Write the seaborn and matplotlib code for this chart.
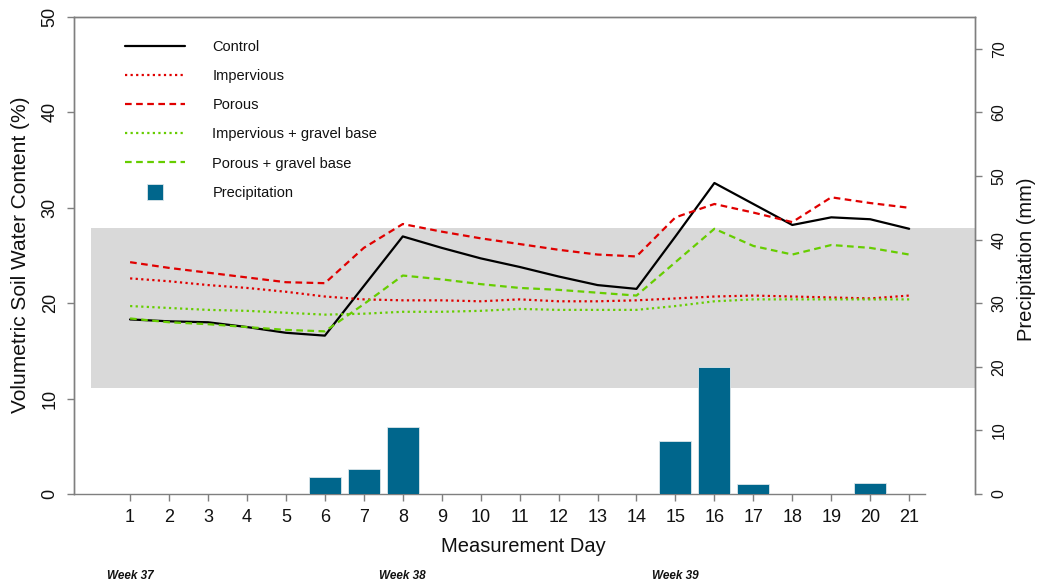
import numpy as np
import pandas as pd
import matplotlib
matplotlib.use("Agg")
import matplotlib.pyplot as plt
from matplotlib.lines import Line2D
import seaborn as sns

# Measurement days and observed series
days = list(range(1, 22))
control = [18.3, 18.1, 18.0, 17.5, 16.9, 16.6, 21.8, 27.0, 25.8, 24.7, 23.8, 22.8,
           21.9, 21.5, 27.0, 32.6, 30.4, 28.2, 29.0, 28.8, 27.8]
impervious = [22.6, 22.3, 21.9, 21.6, 21.2, 20.7, 20.4, 20.3, 20.3, 20.2, 20.4, 20.2,
              20.2, 20.3, 20.5, 20.7, 20.8, 20.7, 20.6, 20.5, 20.8]
porous = [24.3, 23.7, 23.2, 22.7, 22.2, 22.1, 25.8, 28.3, 27.5, 26.8, 26.2, 25.6,
          25.1, 24.9, 29.0, 30.4, 29.5, 28.5, 31.1, 30.5, 30.0]
impervious_gravel = [19.7, 19.5, 19.3, 19.2, 19.0, 18.8, 18.9, 19.1, 19.1, 19.2, 19.4, 19.3,
                     19.3, 19.3, 19.7, 20.2, 20.4, 20.4, 20.4, 20.4, 20.4]
porous_gravel = [18.4, 18.0, 17.8, 17.5, 17.2, 17.05, 19.9, 22.9, 22.5, 22.0, 21.6, 21.4,
                 21.1, 20.8, 24.3, 27.8, 26.0, 25.1, 26.1, 25.8, 25.1]
precip = [0, 0, 0, 0, 0, 2.7, 4.0, 10.5, 0, 0, 0, 0, 0, 0, 8.4, 19.9, 1.5, 0, 0, 1.7, 0]

# Reference band of soil water content (%)
band = [11.1, 27.9]
band_start_day = 0

week_labels = ["Week 37", "Week 38", "Week 39"]
week_days = [1, 8, 15]

sns.set_theme(style="white")
plt.rcParams["font.family"] = ["Liberation Sans", "DejaVu Sans"]

RED = "#e00000"
GREEN = "#66cd00"
BLUE = "#00668c"
AXCOL = "#7f7f7f"

fig = plt.figure(figsize=(10.37, 5.87), dpi=100)
ax = fig.add_axes([74 / 1037, 1 - 494 / 587, 901 / 1037, 477 / 587])
ax2 = ax.twinx()  # drawn above ax: bars sit over the shaded band

xmin, xmax = -0.44, 22.69

# shaded band (left-axis units)
ax.fill_between([band_start_day, xmax + 1], band[0], band[1], color="#d9d9d9", lw=0, zorder=0)

df = pd.DataFrame({
    "day": days,
    "Control": control,
    "Impervious": impervious,
    "Porous": porous,
    "Impervious + gravel base": impervious_gravel,
    "Porous + gravel base": porous_gravel,
    "Precipitation": precip,
})

dot = (0, (1, 1.5))
dash = (0, (3, 2))
series_styles = [
    ("Control", "black", "-"),
    ("Impervious", RED, dot),
    ("Porous", RED, dash),
    ("Impervious + gravel base", GREEN, dot),
    ("Porous + gravel base", GREEN, dash),
]

# precipitation bars on the right-hand axis
sns.barplot(data=df, x="day", y="Precipitation", native_scale=True, width=0.82,
            color=BLUE, saturation=1, edgecolor="#dde6ea", linewidth=0.6, ax=ax2, zorder=2)

for name, col, ls in series_styles:
    sns.lineplot(data=df, x="day", y=name, color=col, linestyle=ls, linewidth=1.6,
                 ax=ax, zorder=3)

ax.set_xlim(xmin, xmax)
ax2.set_xlim(xmin, xmax)
ax.set_ylim(0, 50)
ax2.set_ylim(0, 75)

# axes styling
for a in (ax, ax2):
    for s in a.spines.values():
        s.set_color(AXCOL)
        s.set_linewidth(1.0)
ax.spines["bottom"].set_bounds(xmin, 21.41)
ax2.spines["bottom"].set_visible(False)

ax.set_xticks(days)
ax.set_xticklabels([str(d) for d in days])
ax.set_yticks([0, 10, 20, 30, 40, 50])
ax2.set_yticks([0, 10, 20, 30, 40, 50, 60, 70])

ax.tick_params(axis="x", direction="out", length=5, width=1, color=AXCOL, pad=6,
               labelsize=13, labelcolor="#111111", bottom=True)
ax.tick_params(axis="y", direction="out", length=5, width=1, color=AXCOL, pad=6,
               labelsize=13, labelcolor="#111111", left=True)
ax2.tick_params(axis="y", direction="out", length=5, width=1, color=AXCOL, pad=7,
                labelsize=11.5, labelcolor="#111111", right=True)
for lab in ax.get_yticklabels():
    lab.set_rotation(90)
    lab.set_va("center")
for lab in ax2.get_yticklabels():
    lab.set_rotation(90)
    lab.set_va("center")

ax.set_xlabel("")
ax.set_ylabel("")
ax2.set_xlabel("")
ax2.set_ylabel("")

fig.text(21 / 1037, 1 - 255 / 587, "Volumetric Soil Water Content (%)", rotation=90,
         ha="center", va="center", fontsize=15, color="#111111")
fig.text(1027 / 1037, 1 - 259 / 587, "Precipitation (mm)", rotation=90,
         ha="center", va="center", fontsize=14.5, color="#111111")
fig.text(523 / 1037, 1 - 547 / 587, "Measurement Day", ha="center", va="center",
         fontsize=14.5, color="#111111")

for lab, d in zip(week_labels, week_days):
    ax.annotate(lab, xy=(d, 1 - 576 / 587), xycoords=("data", "figure fraction"),
                ha="center", va="center", fontsize=8.5, fontweight="bold",
                fontstyle="italic", color="#111111")

handles = [Line2D([], [], color=c, linestyle=ls, linewidth=1.6) for _, c, ls in series_styles]
handles.append(Line2D([], [], color=BLUE, marker="s", markersize=11, linestyle="none",
                      markeredgecolor="#dde6ea", markeredgewidth=0.6))
labels = [n for n, _, _ in series_styles] + ["Precipitation"]
leg = ax2.legend(handles, labels, loc="upper left", bbox_to_anchor=(0.0566, 0.952),
                 frameon=False, fontsize=10.5, handlelength=4.1, handletextpad=1.9,
                 labelspacing=1.04, borderpad=0, borderaxespad=0)
for t in leg.get_texts():
    t.set_color("#111111")

fig.savefig("out.png", dpi=100)
